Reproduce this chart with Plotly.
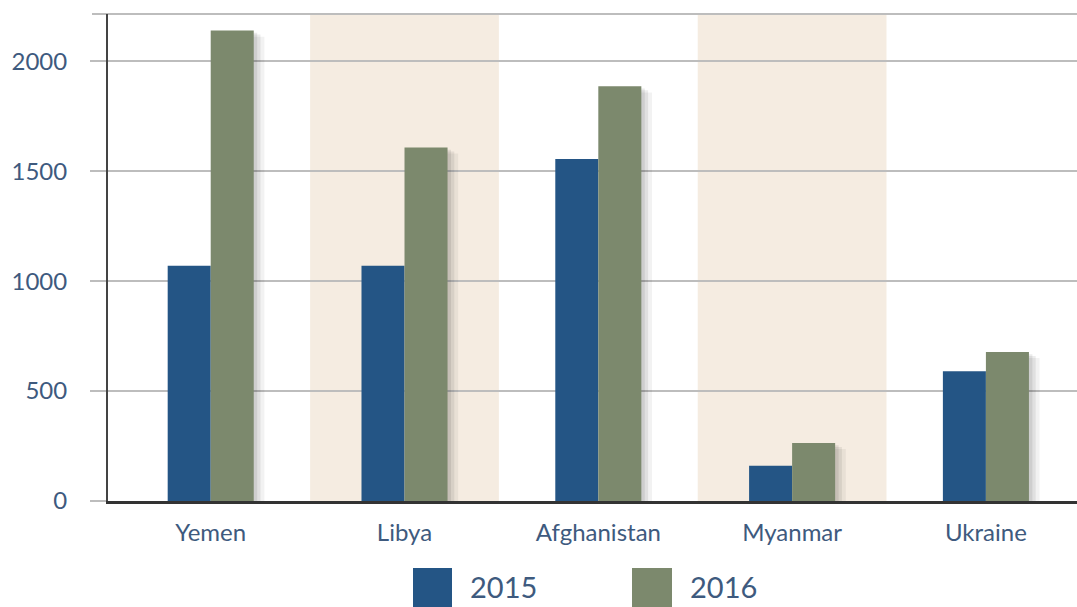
import plotly.graph_objects as go

categories = ["Yemen", "Libya", "Afghanistan", "Myanmar", "Ukraine"]
values_2015 = [1070, 1070, 1556, 160, 590]
values_2016 = [2140, 1608, 1886, 264, 678]
y_ticks = [0, 500, 1000, 1500, 2000]
shaded_categories = ["Libya", "Myanmar"]

BLUE = "#245585"
GREEN = "#7c896d"
BAND = "#f5ece1"
TEXT = "#3e5a7e"
FONT = "Lato"

W, H = 1077, 607
L, T, B, R = 108, 14, 501, 1077
PW, PH = R - L, B - T
UNIT = 193.8  # pixels per category
X0 = -0.53


def px(x):
    return (x - L) / PW


def py(y):
    return (B - y) / PH


BW = 0.222
fig = go.Figure()

# soft drop shadows behind the 2016 bars
for dx, dy, op in [(0.055, 28, 0.05), (0.035, 18, 0.07), (0.018, 10, 0.08)]:
    fig.add_trace(go.Bar(
        x=categories, y=[v - dy for v in values_2016], width=BW, offset=dx,
        marker=dict(color=f"rgba(0,0,0,{op})", line=dict(width=0)),
        showlegend=False, hoverinfo="skip"))

fig.add_trace(go.Bar(name="2015", x=categories, y=values_2015, width=BW, offset=-BW,
                     marker=dict(color=BLUE, line=dict(width=0))))
fig.add_trace(go.Bar(name="2016", x=categories, y=values_2016, width=BW, offset=0,
                     marker=dict(color=GREEN, line=dict(width=0))))

shapes = []
for c in shaded_categories:
    i = categories.index(c)
    shapes.append(dict(type="rect", xref="x", yref="paper", x0=i - 0.487, x1=i + 0.487,
                       y0=0, y1=1, fillcolor=BAND, line=dict(width=0), layer="below"))
# top border line extending left like gridlines
shapes.append(dict(type="line", xref="paper", yref="paper", x0=px(L - 16), x1=1, y0=1, y1=1,
                   line=dict(color="#bdbdbd", width=2), layer="below"))
# legend squares
shapes.append(dict(type="rect", xref="paper", yref="paper", x0=px(413), x1=px(452),
                   y0=py(608), y1=py(568), fillcolor=BLUE, line=dict(width=0)))
shapes.append(dict(type="rect", xref="paper", yref="paper", x0=px(632), x1=px(672),
                   y0=py(608), y1=py(568), fillcolor=GREEN, line=dict(width=0)))

annotations = [
    dict(text="2015", xref="paper", yref="paper", x=px(468), y=py(586),
         xanchor="left", yanchor="middle", showarrow=False, font=dict(family=FONT, size=29, color=TEXT)),
    dict(text="2016", xref="paper", yref="paper", x=px(688), y=py(586),
         xanchor="left", yanchor="middle", showarrow=False, font=dict(family=FONT, size=29, color=TEXT)),
]

fig.update_layout(
    width=W, height=H,
    margin=dict(l=L, r=W - R, t=T, b=H - B),
    paper_bgcolor="white", plot_bgcolor="white",
    barmode="overlay",
    showlegend=False,
    shapes=shapes,
    annotations=annotations,
    font=dict(family=FONT, color=TEXT, size=24),
    xaxis=dict(range=[X0, X0 + PW / UNIT], showgrid=False, ticks="",
               showline=True, linecolor="#333333", linewidth=3,
               tickfont=dict(family=FONT, size=24, color=TEXT), ticklabelstandoff=8),
    yaxis=dict(range=[0, 2215], tickvals=y_ticks, showgrid=True, gridcolor="#bdbdbd", gridwidth=2,
               ticks="outside", ticklen=16, tickcolor="#bdbdbd", tickwidth=2,
               showline=True, linecolor="#444444", linewidth=2, zeroline=False,
               tickfont=dict(family=FONT, size=24, color=TEXT), ticklabelstandoff=18),
)

fig.write_html("out.html",
               config={"displayModeBar": False},
               post_script="document.body.style.margin='0';document.body.style.overflow='hidden';")
